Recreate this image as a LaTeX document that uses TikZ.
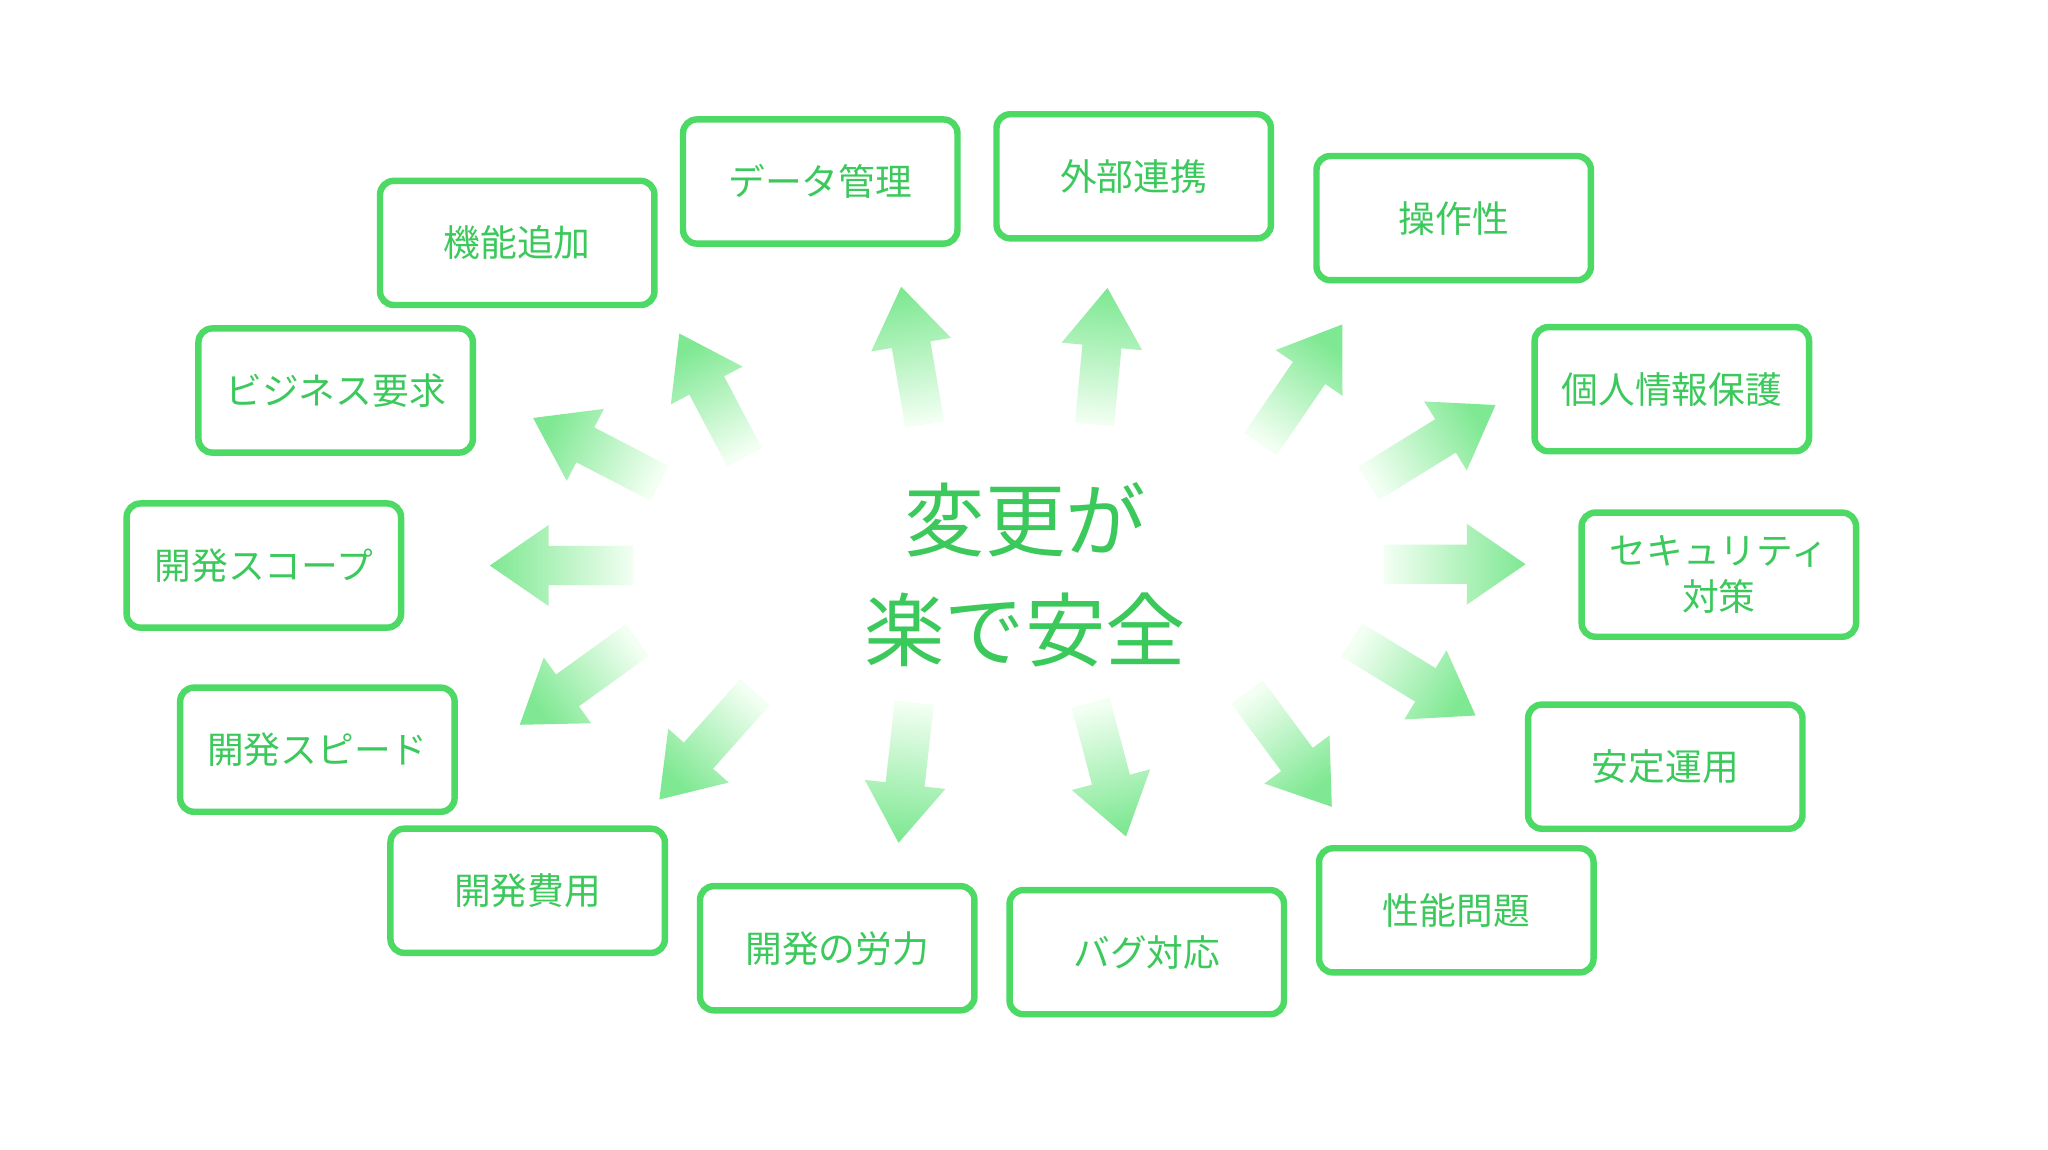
\documentclass[tikz,border=0pt]{standalone}
\usepackage{fontspec}
\setmainfont{Noto Sans CJK JP}
\begin{document}
\definecolor{bgreen}{HTML}{4CD964}
\definecolor{tgreen}{HTML}{3CC95C}
\definecolor{agreen}{HTML}{7EE892}
\begin{tikzpicture}[x=0.01cm,y=-0.01cm,
  box/.style={draw=bgreen,line width=1.4pt,rounded corners=3pt,minimum width=2.1cm,minimum height=0.95cm,text=tgreen,font=\fontsize{8}{10}\selectfont,align=center,fill=white},
  arr/.style={top color=agreen,bottom color=green!5!white,draw=none}]
\fill[white] (0,0) rectangle (1568,880);
\useasboundingbox (0,0) rectangle (1568,880);
\newcommand\garr[4]{\pgfmathsetmacro\sa{#3-90}\path[arr,shading angle=\sa,shift={(#1,#2)},rotate=#3] (0,-15) -- (#4-45,-15) -- (#4-45,-31) -- (#4,0) -- (#4-45,31) -- (#4-45,15) -- (0,15) -- cycle;}
\garr{485}{433}{180}{110}
\garr{505}{370}{152.7}{109}
\garr{570}{350}{117.8}{107}
\garr{708}{325}{99.7}{107}
\garr{838}{325}{84.6}{105}
\garr{965}{340}{55.6}{111}
\garr{1048}{370}{31.7}{114}
\garr{1060}{432}{0}{108}
\garr{1035}{490}{-31.4}{111}
\garr{955}{530}{-53.6}{109}
\garr{835}{538}{-75.2}{106}
\garr{700}{538}{-96.4}{108}
\garr{578}{530}{-131.7}{110}
\garr{488}{490}{-144.2}{111}
\node[text=tgreen,font=\fontsize{17.5}{24}\selectfont,align=center] (c) at (785,440) {変更が\\楽で安全};
\node[box] (b1) at (396,186) {機能追加};
\node[box] (b2) at (628,139) {データ管理};
\node[box] (b3) at (868,135) {外部連携};
\node[box] (b4) at (1113,167) {操作性};
\node[box] (b5) at (1280,298) {個人情報保護};
\node[box] (b6) at (1316,440) {セキュリティ\\対策};
\node[box] (b7) at (1275,587) {安定運用};
\node[box] (b8) at (1115,697) {性能問題};
\node[box] (b9) at (878,729) {バグ対応};
\node[box] (b10) at (641,726) {開発の労力};
\node[box] (b11) at (404,682) {開発費用};
\node[box] (b12) at (243,574) {開発スピード};
\node[box] (b13) at (202,433) {開発スコープ};
\node[box] (b14) at (257,299) {ビジネス要求};
\end{tikzpicture}
\end{document}
